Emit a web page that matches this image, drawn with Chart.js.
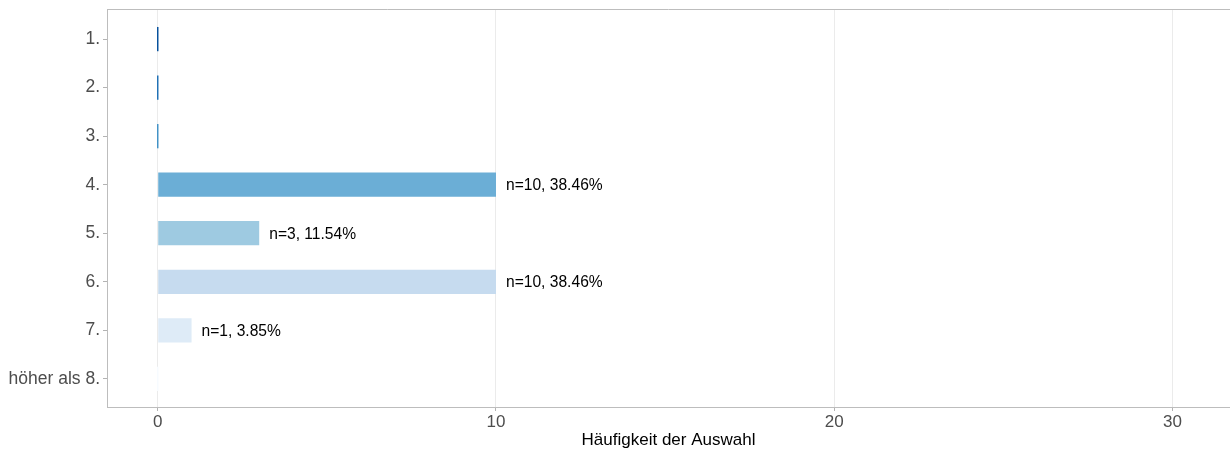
<!DOCTYPE html>
<html>
<head>
<meta charset="utf-8">
<script src="https://cdn.jsdelivr.net/npm/chart.js@4/dist/chart.umd.min.js"></script>
<style>
  body { margin: 0; background: #fff; }
</style>
</head>
<body>
<canvas id="chart" width="1230" height="451"></canvas>
<script>
const categories = ['1.', '2.', '3.', '4.', '5.', '6.', '7.', 'höher als 8.'];
const counts = [0, 0, 0, 10, 3, 10, 1, 0];
const percents = [0, 0, 0, 38.46, 11.54, 38.46, 3.85, 0];
const xTicks = [0, 10, 20, 30];
const barColors = ['#08519c', '#2171b5', '#4292c6', '#6baed6', '#9ecae1', '#c6dbef', '#deebf7', '#f7fbff'];

const font = 'Liberation Sans, Arial, sans-serif';

// top line of the panel border (left and bottom come from the axes)
const topBorder = {
  id: 'topBorder',
  afterDraw(chart) {
    const { ctx, chartArea } = chart;
    ctx.save();
    ctx.strokeStyle = '#bdbdbd';
    ctx.lineWidth = 1;
    ctx.beginPath();
    ctx.moveTo(chartArea.left, chartArea.top + 0.5);
    ctx.lineTo(chartArea.right, chartArea.top + 0.5);
    ctx.stroke();
    ctx.restore();
  }
};

// "n=.., ..%" next to each bar that has a value
const barLabels = {
  id: 'barLabels',
  afterDatasetsDraw(chart) {
    const { ctx } = chart;
    const meta = chart.getDatasetMeta(0);
    ctx.save();
    ctx.font = '15.6px ' + font;
    ctx.fillStyle = '#000';
    ctx.textBaseline = 'middle';
    meta.data.forEach((bar, i) => {
      if (counts[i] <= 0) return;
      ctx.fillText('n=' + counts[i] + ', ' + percents[i].toFixed(2) + '%', bar.x + 10, bar.y + 1);
    });
    ctx.restore();
  }
};

new Chart(document.getElementById('chart'), {
  type: 'bar',
  data: {
    datasets: [{
      data: counts.map((v, i) => ({ x: v, y: i })),
      backgroundColor: barColors,
      barPercentage: 0.5,
      categoryPercentage: 1,
      minBarLength: 1.5
    }]
  },
  options: {
    indexAxis: 'y',
    responsive: false,
    animation: false,
    layout: { padding: { top: 9, left: 0, right: 0, bottom: 0 } },
    plugins: { legend: { display: false }, tooltip: { enabled: false } },
    scales: {
      x: {
        type: 'linear',
        min: -1.5,
        max: 31.7,
        afterBuildTicks(scale) { scale.ticks = xTicks.map(v => ({ value: v })); },
        afterFit(scale) { scale.height = 44; scale.paddingLeft = 0; scale.paddingRight = 0; },
        grid: { color: '#ebebeb', tickColor: '#b3b3b3', tickLength: 4 },
        border: { color: '#bdbdbd' },
        ticks: { color: '#4d4d4d', font: { family: font, size: 17 }, padding: 1 },
        title: {
          display: true,
          text: 'Häufigkeit der Auswahl',
          color: '#000',
          font: { family: font, size: 17 },
          padding: { top: 0, bottom: 0 }
        }
      },
      y: {
        type: 'linear',
        min: -0.62,
        max: 7.58,
        reverse: true,
        offset: false,
        afterBuildTicks(scale) { scale.ticks = categories.map((c, i) => ({ value: i })); },
        afterFit(scale) { scale.width = 107; scale.paddingTop = 0; scale.paddingBottom = 0; },
        grid: { drawOnChartArea: false, offset: false, tickColor: '#b3b3b3', tickLength: 4 },
        border: { color: '#bdbdbd' },
        ticks: {
          color: '#4d4d4d',
          font: { family: font, size: 17.5 },
          padding: 3,
          callback: (v) => categories[v]
        }
      }
    }
  },
  plugins: [topBorder, barLabels]
});
</script>
</body>
</html>
